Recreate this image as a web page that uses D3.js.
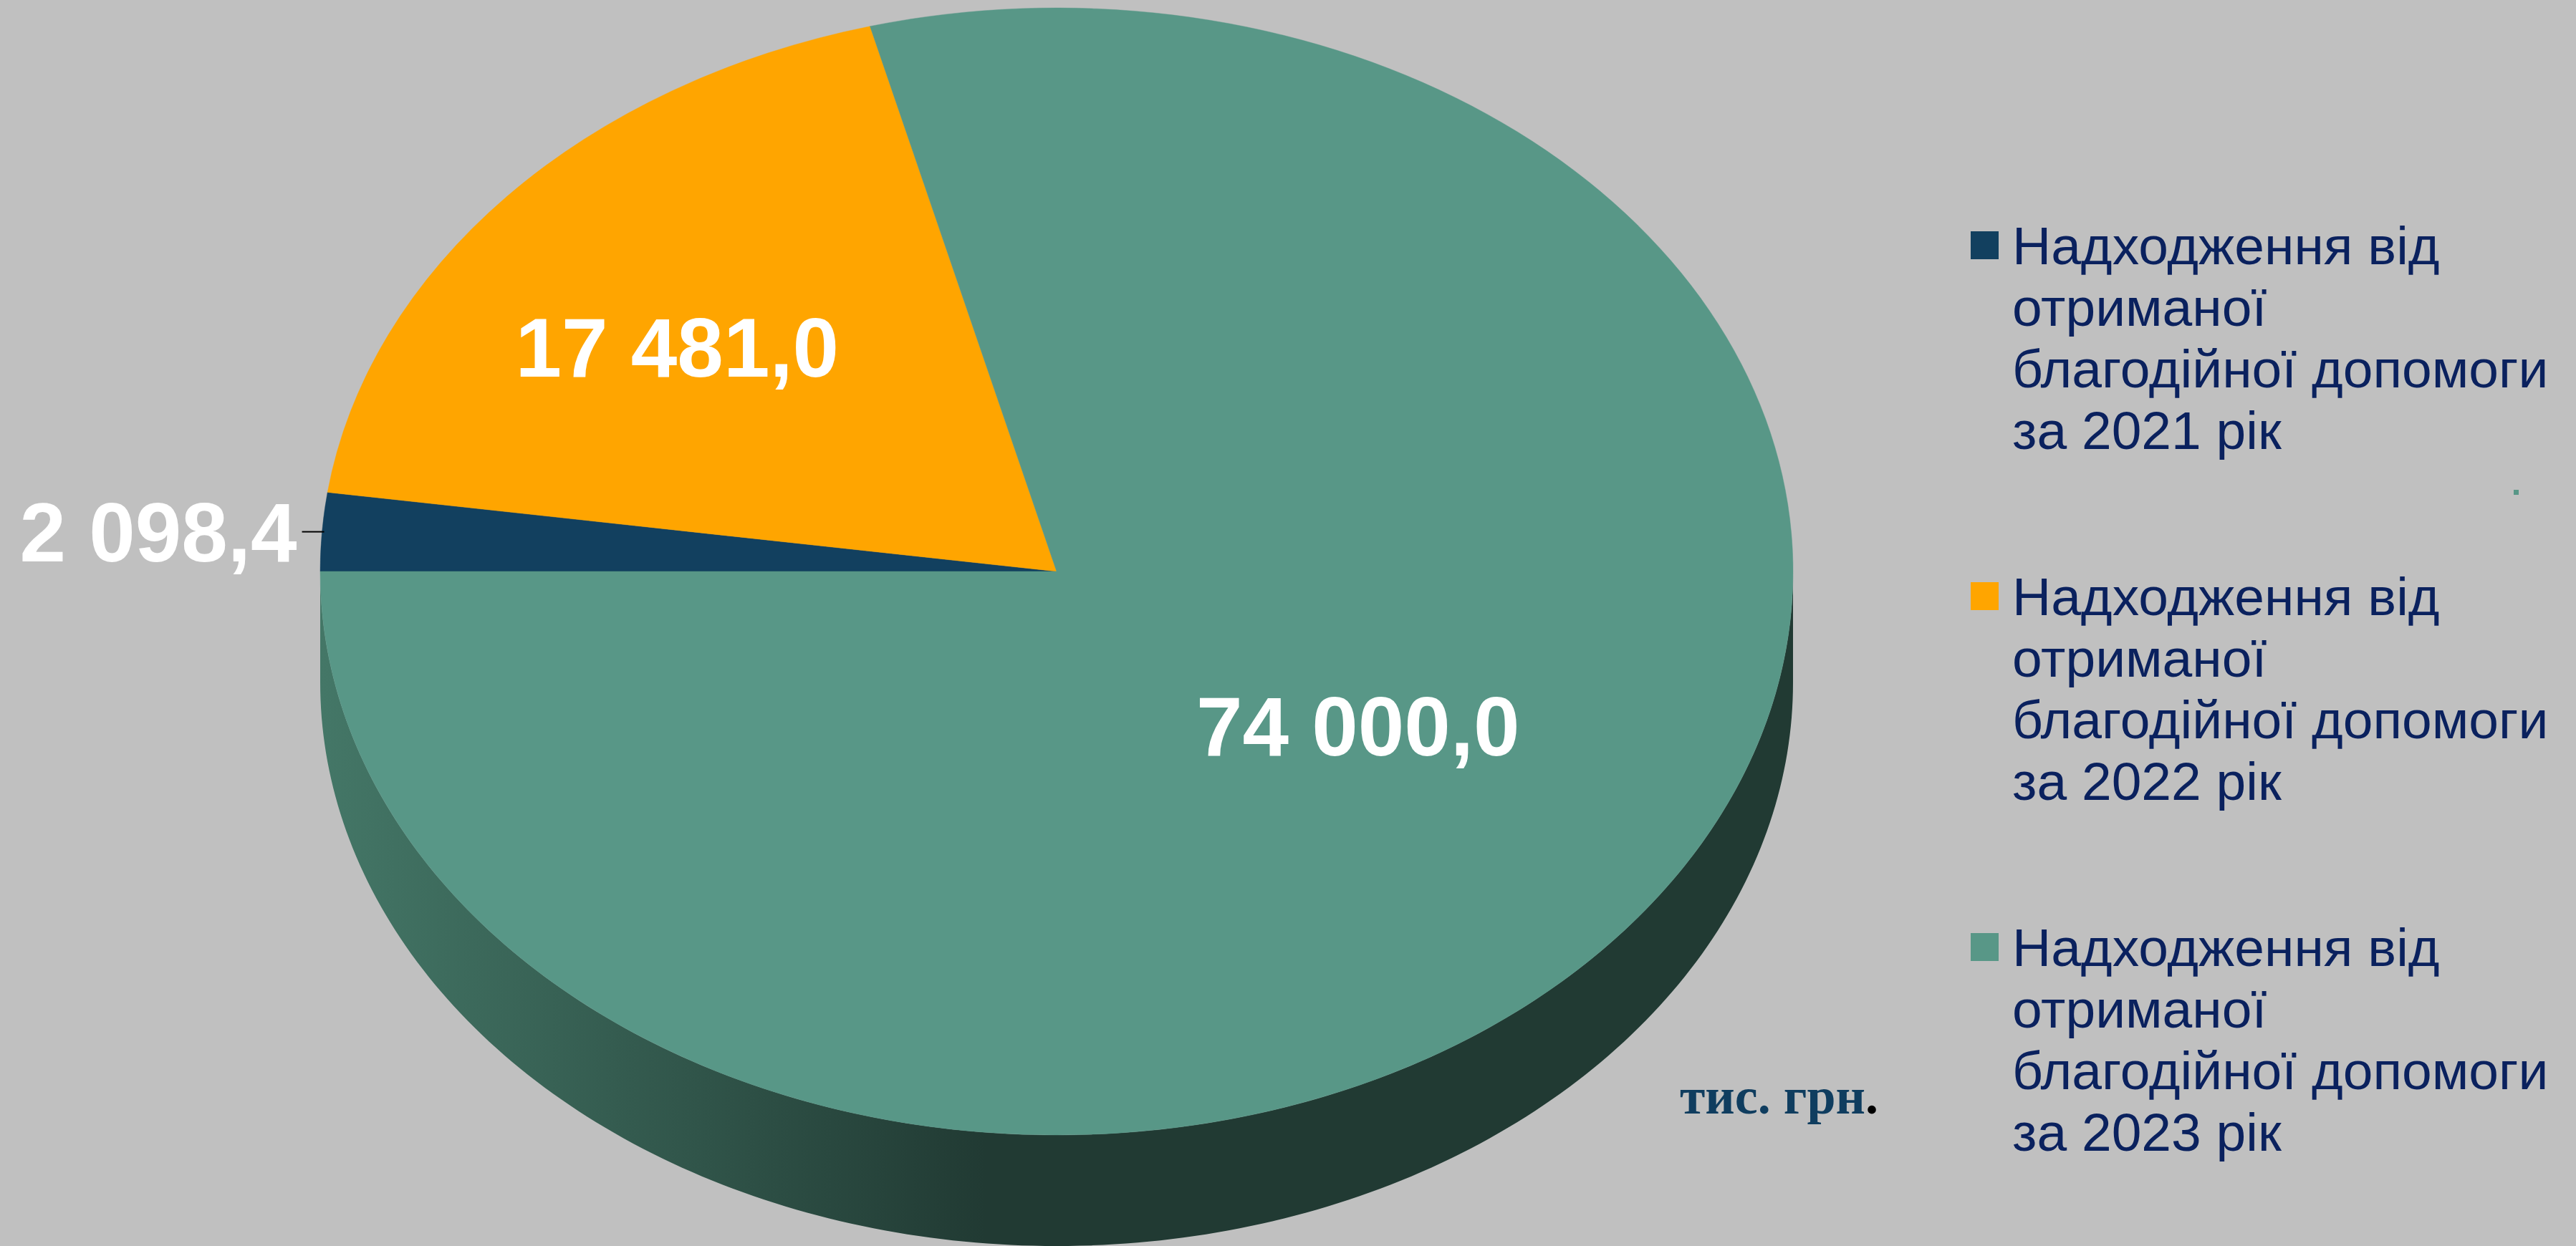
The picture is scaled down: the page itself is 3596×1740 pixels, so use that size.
<!DOCTYPE html>
<html><head><meta charset="utf-8">
<script src="https://cdn.jsdelivr.net/npm/d3@7"></script>
<style>html,body{margin:0;padding:0;background:#c0c0c0;overflow:hidden}svg{display:block}</style>
</head><body>
<svg id="chart" width="3596" height="1740"></svg>
<script>
// ---- data ----
const categories = [
  "Надходження від\nотриманої\nблагодійної допомоги\nза 2021 рік",
  "Надходження від\nотриманої\nблагодійної допомоги\nза 2022 рік",
  "Надходження від\nотриманої\nблагодійної допомоги\nза 2023 рік"
];
const values = [2098.4, 17481.0, 74000.0];
const colors = ["#12405f", "#ffa500", "#589787"];
const unitText = "тис. грн";

// ---- layout / style ----
const W = 3596, H = 1740;
const cx = 1475, cy = 798, rx = 1028, ry = 787, depth = 155;
const labelRadius = [1.0, 0.69, 0.517];   // fraction of radius for each label
const labelSquash = 0.867;
const labelFont = 116;

const locale = d3.formatLocale({decimal: ",", thousands: "\u00a0", grouping: [3], currency: ["", ""]});
const fmt = v => locale.format(",.1f")(v).replace(/\u00a0/g, " ");

const svg = d3.select("#chart");
svg.append("rect").attr("width", W).attr("height", H).attr("fill", "#c0c0c0");

const defs = svg.append("defs");
const grad = defs.append("linearGradient").attr("id", "sideGrad")
  .attr("gradientUnits", "userSpaceOnUse")
  .attr("x1", cx - rx).attr("x2", cx - rx + 930).attr("y1", 0).attr("y2", 0);
grad.append("stop").attr("offset", 0).attr("stop-color", "#447767");
grad.append("stop").attr("offset", 1).attr("stop-color", "#213a33");

const pie = d3.pie().sort(null).value(d => d)
  .startAngle(-Math.PI / 2).endAngle(3 * Math.PI / 2);
const arcs = pie(values);

const proj = (a, r = 1, k = 1) => [cx + rx * r * Math.sin(a), cy - ry * k * r * Math.cos(a)];

// side walls (front half only)
const sideG = svg.append("g");
arcs.forEach((d, i) => {
  const a0 = Math.max(d.startAngle, Math.PI / 2);
  const a1 = Math.min(d.endAngle, 3 * Math.PI / 2);
  if (a1 <= a0) return;
  const n = 200;
  const angs = d3.range(n + 1).map(j => a0 + (a1 - a0) * j / n);
  const top = angs.map(a => proj(a));
  const bot = angs.slice().reverse().map(a => { const p = proj(a); return [p[0], p[1] + depth]; });
  sideG.append("path")
    .attr("d", d3.line()(top.concat(bot)) + "Z")
    .attr("fill", "url(#sideGrad)");
});

// top face
const arcGen = d3.arc().innerRadius(0).outerRadius(rx);
svg.append("g")
  .attr("transform", `translate(${cx},${cy}) scale(1,${ry / rx})`)
  .selectAll("path").data(arcs).join("path")
  .attr("d", arcGen)
  .attr("fill", (d, i) => colors[i])
  .attr("stroke", (d, i) => colors[i]).attr("stroke-width", 0.5);

// data labels
const lblG = svg.append("g")
  .attr("font-family", "'Liberation Sans', Arial, sans-serif")
  .attr("font-weight", "bold").attr("font-size", labelFont).attr("fill", "#ffffff");
arcs.forEach((d, i) => {
  const mid = (d.startAngle + d.endAngle) / 2;
  if (labelRadius[i] >= 1) {
    const p = proj(mid);
    svg.append("line")
      .attr("x1", p[0] + 3).attr("y1", p[1]).attr("x2", p[0] - 28).attr("y2", p[1])
      .attr("stroke", "#000").attr("stroke-width", 2);
    lblG.append("text").attr("x", p[0] - 35).attr("y", p[1]).attr("dy", "0.358em")
      .attr("text-anchor", "end").text(fmt(values[i]));
  } else {
    const p = proj(mid, labelRadius[i], labelSquash);
    lblG.append("text").attr("x", p[0]).attr("y", p[1]).attr("dy", "0.358em")
      .attr("text-anchor", "middle").text(fmt(values[i]));
  }
});

// legend
const legY = d3.scaleLinear().domain([0, 1]).range([369, 859]);
const legG = svg.append("g")
  .attr("font-family", "'Liberation Sans', Arial, sans-serif")
  .attr("font-size", 75).attr("fill", "#0a215e");
categories.forEach((c, i) => {
  const y = legY(i);
  legG.append("rect").attr("x", 2751).attr("y", y - 46).attr("width", 39).attr("height", 39)
    .attr("fill", colors[i]);
  const t = legG.append("text").attr("x", 2809).attr("y", y);
  c.split("\n").forEach((ln, j) => {
    t.append("tspan").attr("x", 2809).attr("dy", j === 0 ? 0 : 86).text(ln);
  });
});
// stray marker
svg.append("rect").attr("x", 3509).attr("y", 684).attr("width", 7).attr("height", 7).attr("fill", colors[2]);

// unit text
const ut = svg.append("text").attr("x", 2345).attr("y", 1555)
  .attr("font-family", "'Liberation Serif', 'Times New Roman', serif")
  .attr("font-weight", "bold").attr("font-size", 72).attr("fill", "#0f3d5f");
ut.append("tspan").text(unitText);
ut.append("tspan").attr("fill", "#000").text(".");
</script>
</body></html>
